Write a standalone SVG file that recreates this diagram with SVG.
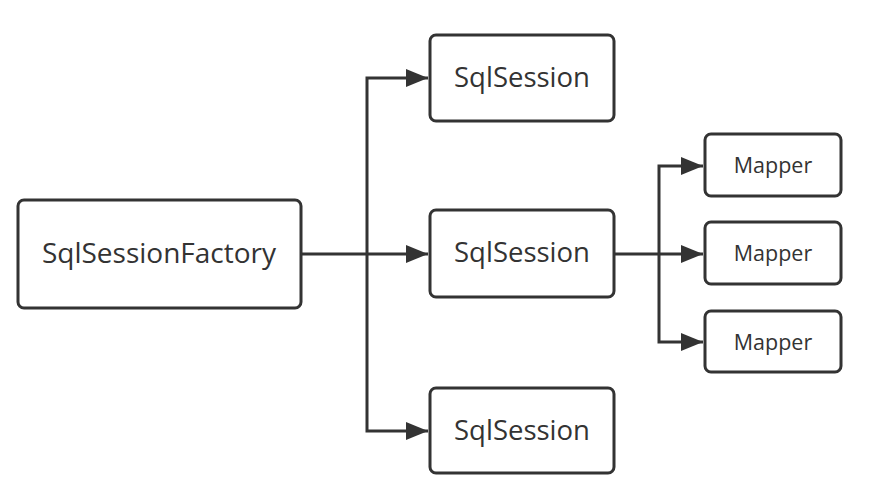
<svg xmlns="http://www.w3.org/2000/svg" width="894" height="499" viewBox="0 0 894 499">
<defs>
<marker id="ah" markerUnits="userSpaceOnUse" markerWidth="24" markerHeight="18" refX="22" refY="9" orient="auto">
<path d="M0,0 L22,9 L0,18 Z" fill="#333"/>
</marker>
<style>
.box{fill:#fff;stroke:#333;stroke-width:3}
.t{font-family:"Open Sans","Noto Sans","Liberation Sans",sans-serif;fill:#333;text-anchor:middle;dominant-baseline:central}
.c{fill:none;stroke:#333;stroke-width:3}
</style>
</defs>
<rect width="894" height="499" fill="#fff"/>
<g id="connectors">
<path class="c" d="M302,254 L428,254" marker-end="url(#ah)"/>
<path class="c" d="M367,254 L367,78 L428,78" marker-end="url(#ah)"/>
<path class="c" d="M367,254 L367,431 L428,431" marker-end="url(#ah)"/>
<path class="c" d="M614,254 L703,254" marker-end="url(#ah)"/>
<path class="c" d="M659,254 L659,166 L703,166" marker-end="url(#ah)"/>
<path class="c" d="M659,254 L659,342 L703,342" marker-end="url(#ah)"/>
</g>
<g id="factory"><rect class="box" x="18" y="200" width="283" height="108" rx="6"/><text class="t" x="159" y="252" font-size="28">SqlSessionFactory</text></g>
<g id="session1"><rect class="box" x="430" y="35" width="184" height="86" rx="6"/><text class="t" x="522" y="76" font-size="27.5">SqlSession</text></g>
<g id="session2"><rect class="box" x="430" y="210" width="184" height="87" rx="6"/><text class="t" x="522" y="251" font-size="27.5">SqlSession</text></g>
<g id="session3"><rect class="box" x="430" y="388" width="184" height="85" rx="6"/><text class="t" x="522" y="429" font-size="27.5">SqlSession</text></g>
<g id="mapper1"><rect class="box" x="705" y="134" width="136" height="62" rx="6"/><text class="t" x="773" y="164" font-size="21.5">Mapper</text></g>
<g id="mapper2"><rect class="box" x="705" y="222" width="136" height="62" rx="6"/><text class="t" x="773" y="252" font-size="21.5">Mapper</text></g>
<g id="mapper3"><rect class="box" x="705" y="311" width="136" height="61" rx="6"/><text class="t" x="773" y="341" font-size="21.5">Mapper</text></g>
</svg>
